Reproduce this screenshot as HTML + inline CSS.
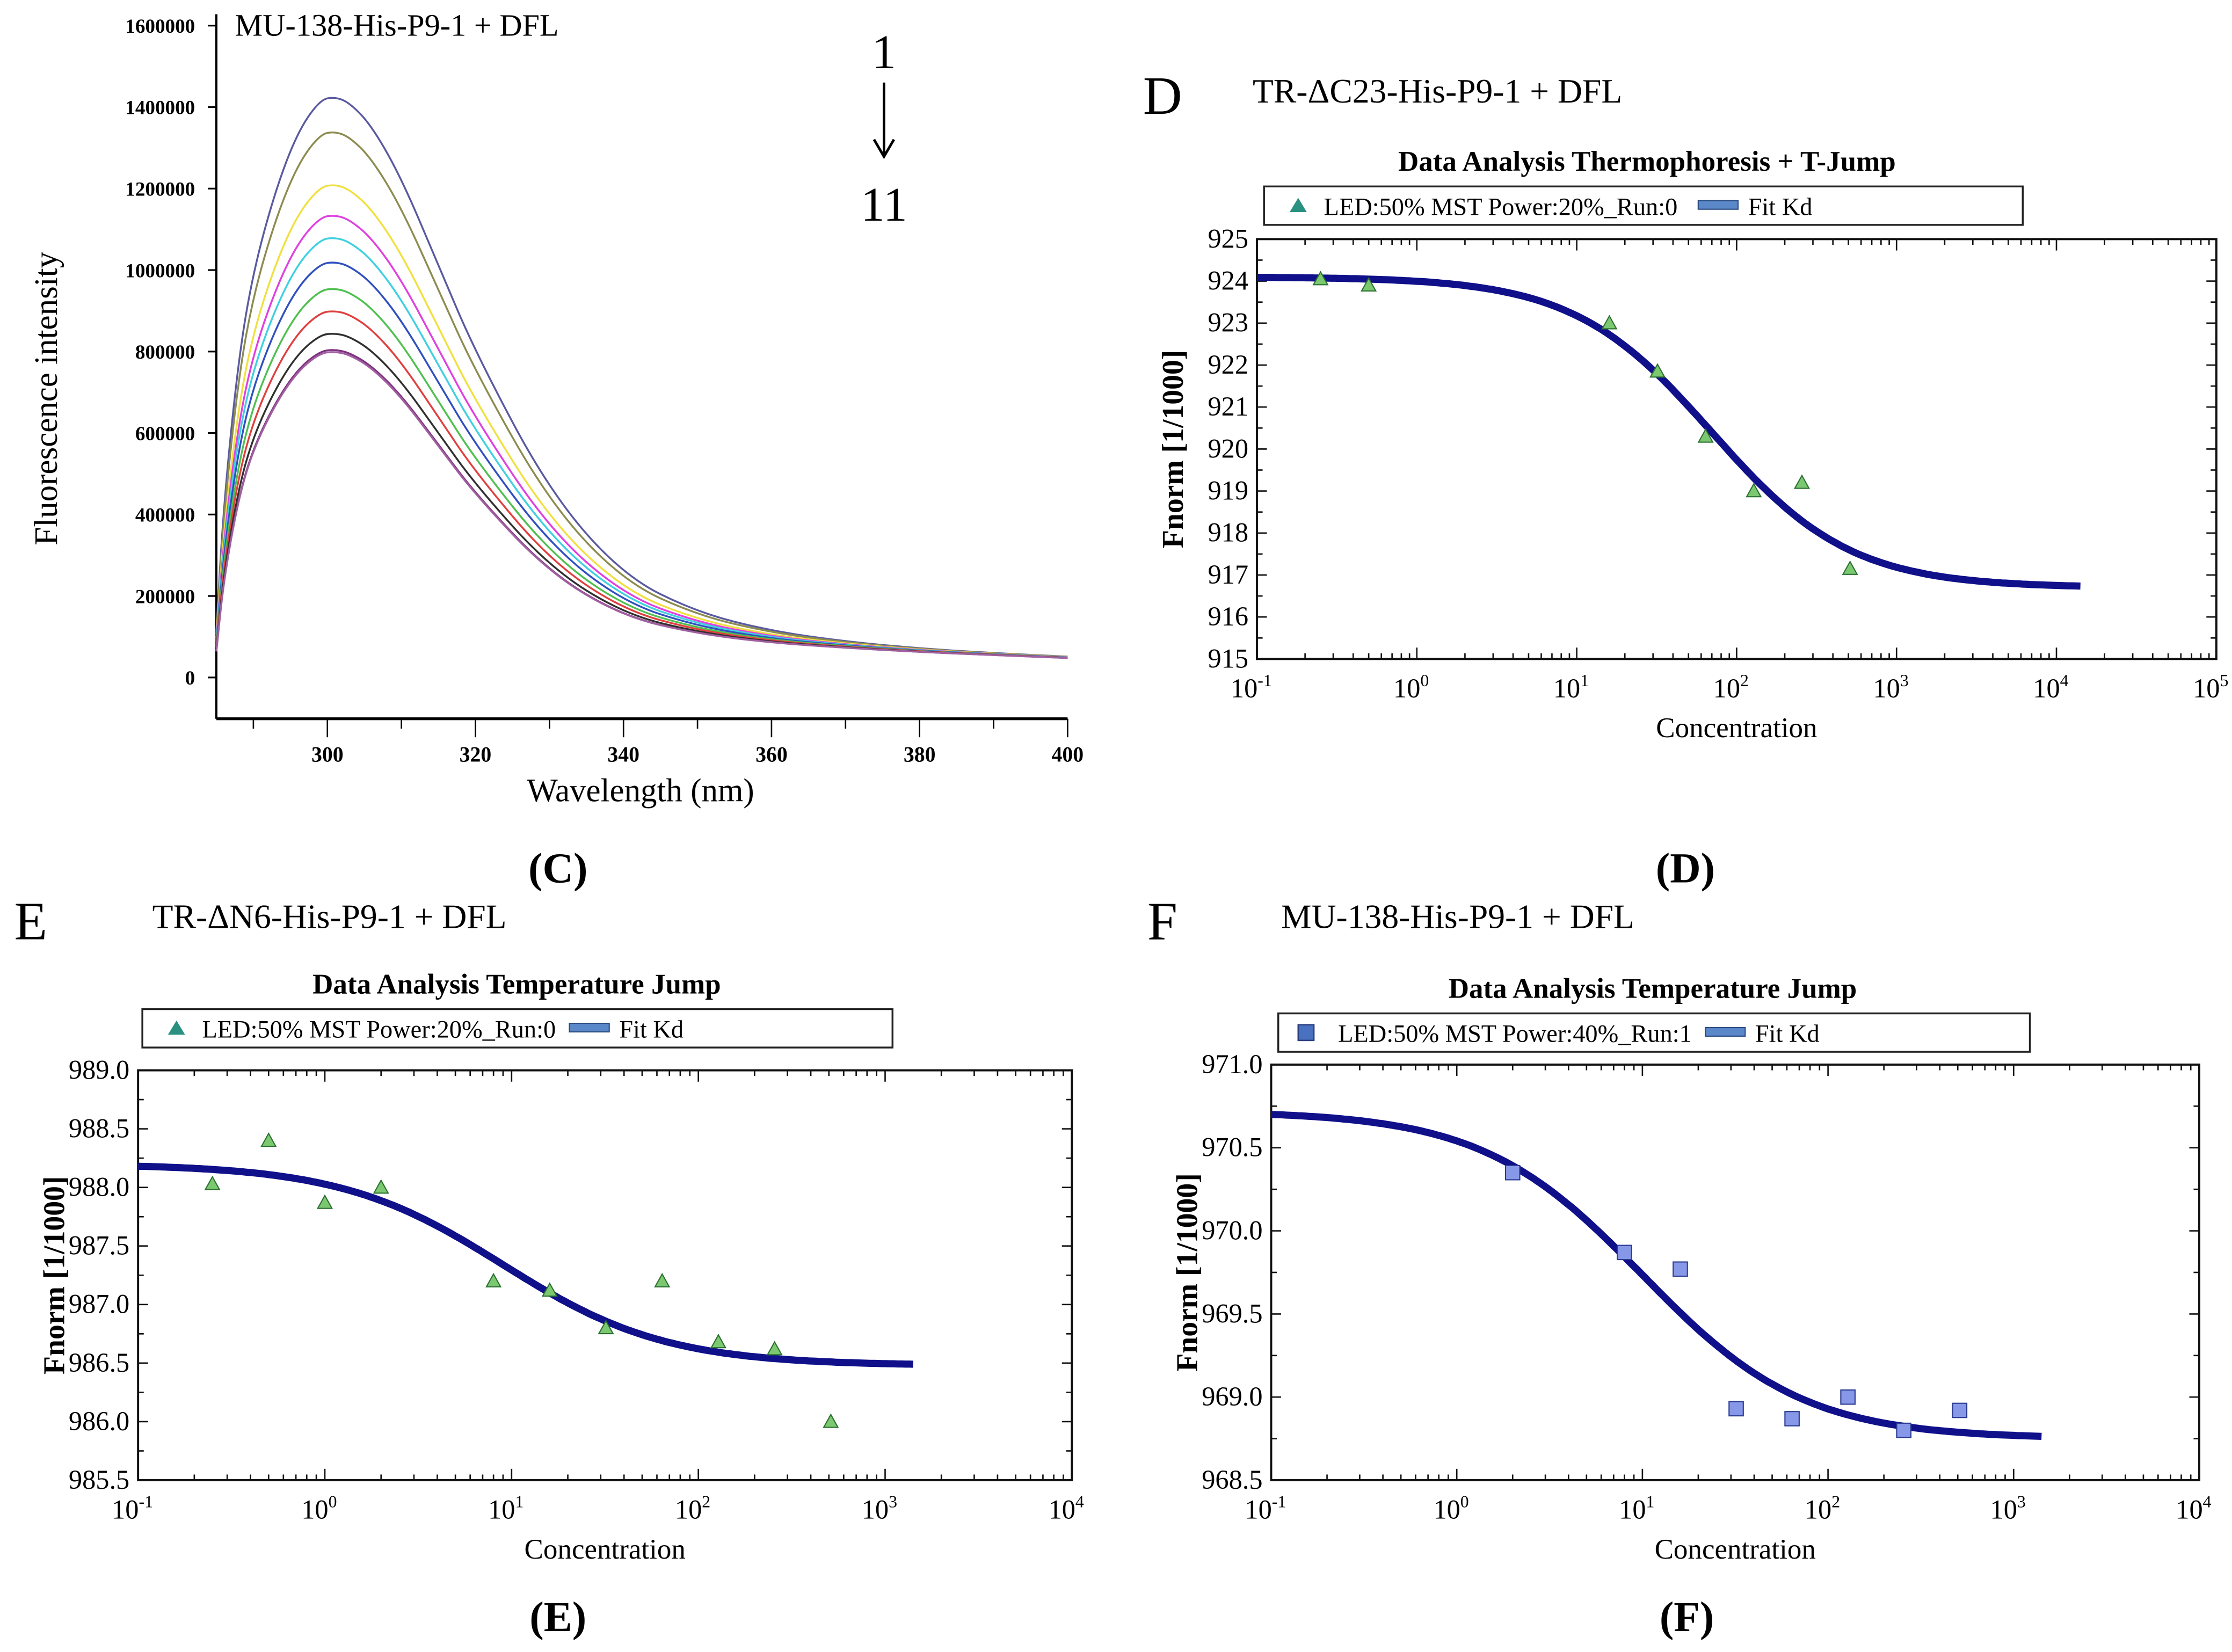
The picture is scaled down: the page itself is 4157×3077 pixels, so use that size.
<!DOCTYPE html>
<html><head><meta charset="utf-8"><style>
html,body{margin:0;padding:0;background:#fff;}
svg{display:block;}
svg text{font-family:"Liberation Serif","DejaVu Serif",serif;}
</style></head><body>
<svg id="fig" width="4157" height="3077" viewBox="0 0 1568 1160.7" preserveAspectRatio="none" xmlns="http://www.w3.org/2000/svg">
<rect width="1568" height="1161" fill="#fff"/>
<g id="pc"></g>
<g id="pd"></g>
<g id="pe"></g>
<g id="pf"></g>
</svg>
<script>
// Panel C data
const cWavelengths=[285,286,288,290,293,296,299,301,303,306,310,315,320,330,340,350,360,370,380,390,400];
const cProfile=[0.08,0.3,0.55,0.7,0.84,0.94,0.995,1.0,0.99,0.95,0.86,0.71,0.56,0.32,0.175,0.112,0.08,0.062,0.05,0.042,0.036];
const cTail=[0,0,0,0,0,0,0,0,0,0,0,0,0,0,0.1,0.3,0.5,0.7,0.85,0.95,1];
const cPeaks=[1425000,1340000,1210000,1135000,1080000,1020000,955000,900000,845000,805000,800000];
const cColors=["#5a5aa0","#8c8c50","#f0e040","#e040e0","#40d0e0","#3050c0","#50c050","#e04040","#303030","#803080","#a060a0"];
const cXTicks=[300,320,340,360,380,400];
const cYTicks=[0,200000,400000,600000,800000,1000000,1200000,1400000,1600000];
// Panel D data
const dConc=[0.25,0.5,16,32,64,128,256,512];
const dVals=[924.05,923.9,923.0,921.85,920.3,919.0,919.2,917.15];
const dFit=[924.1,916.7,70];
const dYTicks=[915,916,917,918,919,920,921,922,923,924,925];
// Panel E data
const eConc=[0.25,0.5,1,2,8,16,32,64,128,256,512];
const eVals=[988.03,988.4,987.87,988.0,987.2,987.12,986.8,987.2,986.68,986.62,986.0];
const eFit=[988.2,986.48,9];
const eYTicks=[985.5,986.0,986.5,987.0,987.5,988.0,988.5,989.0];
// Panel F data
const fConc=[2,8,16,32,64,128,256,512];
const fVals=[970.35,969.87,969.77,968.93,968.87,969.0,968.8,968.92];
const fFit=[970.72,968.75,10];
const fYTicks=[968.5,969.0,969.5,970.0,970.5,971.0];

const NS="http://www.w3.org/2000/svg";
function mk(parent,tag,attrs,text){const e=document.createElementNS(NS,tag);for(const k in attrs)e.setAttribute(k,attrs[k]);if(text!==undefined)e.textContent=text;parent.appendChild(e);return e;}

// ---------- Panel C ----------
(function(){
const g=document.getElementById('pc');
const X=w=>152+(w-285)*5.2;
const Y=v=>476-v*(458/1600000);
mk(g,'line',{x1:152,y1:10,x2:152,y2:505,stroke:'#000','stroke-width':1.5});
mk(g,'line',{x1:152,y1:505,x2:750,y2:505,stroke:'#000','stroke-width':2});
cYTicks.forEach(v=>{
 mk(g,'line',{x1:146,y1:Y(v),x2:152,y2:Y(v),stroke:'#000','stroke-width':1.2});
 const t=mk(g,'text',{x:137,y:Y(v)+5,'text-anchor':'end','font-size':14,'font-weight':'bold'},String(v));
 
});
for(let w=290;w<=400;w+=10){const big=w%20===0;mk(g,'line',{x1:X(w),y1:505,x2:X(w),y2:big?518:512,stroke:'#000','stroke-width':1});}
cXTicks.forEach(w=>{const t=mk(g,'text',{x:X(w),y:535,'text-anchor':'middle','font-size':15,'font-weight':'bold'},String(w));
 });
let t=mk(g,'text',{x:450,y:563,'text-anchor':'middle','font-size':23},'Wavelength (nm)');

t=mk(g,'text',{x:0,y:0,'text-anchor':'middle','font-size':23,transform:'translate(40,280) rotate(-90)'},'Fluorescence intensity');

t=mk(g,'text',{x:165,y:25,'font-size':22},'MU-138-His-P9-1 + DFL');

t=mk(g,'text',{x:621,y:48,'text-anchor':'middle','font-size':34},'1');

const a=mk(g,'path',{d:'M621 58 L621 108 M614 98 L621 110 L628 98',stroke:'#000','stroke-width':1.8,fill:'none'});

t=mk(g,'text',{x:621,y:155,'text-anchor':'middle','font-size':34},'11');

cPeaks.forEach((p,i)=>{
 const pts=cWavelengths.map((w,j)=>{const raw=cProfile[j]*p;const tgt=cProfile[j]*1425000;const v=raw+(tgt-raw)*cTail[j]*0.85;return [X(w),Y(v)];});
 let d='M'+pts[0][0]+' '+pts[0][1];
 for(let k=1;k<pts.length;k++){const p0=pts[k-1],p1=pts[k];const mx=(p0[0]+p1[0])/2;d+=` Q${p0[0]} ${p0[1]} ${mx} ${(p0[1]+p1[1])/2}`;}
 d+=` L${pts[pts.length-1][0]} ${pts[pts.length-1][1]}`;
 const l=mk(g,'path',{d:d,stroke:cColors[i],'stroke-width':1.3,fill:'none'});
 
});
t=mk(g,'text',{x:392,y:620,'text-anchor':'middle','font-size':30,'font-weight':'bold'},'(C)');

})();

// ---------- MST panels ----------
function mst(gid,cfg){
 const g=document.getElementById(gid);
 const {x0,x1,y0,y1,dec0,dec1,ymin,ymax,yTicks,conc,vals,fit,fitEnd,marker,yFmt}=cfg;
 const X=c=>x0+(Math.log10(c)-dec0)/(dec1-dec0)*(x1-x0);
 const Y=v=>y1-(v-ymin)/(ymax-ymin)*(y1-y0);
 let t=mk(g,'text',{x:cfg.letterX,y:cfg.letterY,'font-size':38},cfg.letter);
 
 t=mk(g,'text',{x:cfg.subX,y:cfg.letterY-8,'font-size':24},cfg.sub);
 
 t=mk(g,'text',{x:cfg.titleX,y:cfg.titleY,'text-anchor':'middle','font-size':20,'font-weight':'bold'},cfg.title);
 
 const lg=mk(g,'g',{});
 
 mk(lg,'rect',{x:cfg.lgX,y:cfg.lgY,width:cfg.lgW,height:27,fill:'#fff',stroke:'#222','stroke-width':1.3});
 const my=cfg.lgY+14;
 if(marker==='tri') mk(lg,'path',{d:`M${cfg.lgX+24} ${my-6} L${cfg.lgX+30} ${my+4} L${cfg.lgX+18} ${my+4} Z`,fill:'#2a9080'});
 else mk(lg,'rect',{x:cfg.lgX+14,y:my-6,width:11,height:11,fill:'#4a70c0',stroke:'#2a4080'});
 mk(lg,'text',{x:cfg.lgX+42,y:my+6,'font-size':17.5},cfg.lgText);
 mk(lg,'rect',{x:cfg.lgFitX,y:my-4,width:28,height:6,fill:'#5a88c8',stroke:'#2a4a80','stroke-width':0.8});
 mk(lg,'text',{x:cfg.lgFitX+35,y:my+6,'font-size':17.5},'Fit Kd');
 mk(g,'rect',{x:x0,y:y0,width:x1-x0,height:y1-y0,fill:'none',stroke:'#111','stroke-width':1.5});
 for(let d=dec0;d<dec1;d++){for(let m=1;m<10;m++){const xx=x0+(d+Math.log10(m)-dec0)/(dec1-dec0)*(x1-x0);const L=m===1?8:4;
  mk(g,'line',{x1:xx,y1:y1,x2:xx,y2:y1-L,stroke:'#111','stroke-width':1});mk(g,'line',{x1:xx,y1:y0,x2:xx,y2:y0+L,stroke:'#111','stroke-width':1});}}
 for(let d=dec0;d<=dec1;d++){const xx=X(Math.pow(10,d));
  const tt=mk(g,'text',{x:xx-4,y:y1+27,'text-anchor':'middle','font-size':19},'10');
  
  const ts=document.createElementNS(NS,'tspan');ts.setAttribute('dy',-8);ts.setAttribute('font-size',12);ts.textContent=String(d);tt.appendChild(ts);}
 yTicks.forEach((v,i)=>{const yy=Y(v);mk(g,'line',{x1:x0,y1:yy,x2:x0+7,y2:yy,stroke:'#111'});mk(g,'line',{x1:x1,y1:yy,x2:x1-7,y2:yy,stroke:'#111'});
  if(i<yTicks.length-1){const ym=Y((v+yTicks[i+1])/2);mk(g,'line',{x1:x0,y1:ym,x2:x0+4,y2:ym,stroke:'#111'});mk(g,'line',{x1:x1,y1:ym,x2:x1-4,y2:ym,stroke:'#111'});}
  const tt=mk(g,'text',{x:x0-6,y:yy+6,'text-anchor':'end','font-size':19},v.toFixed(yFmt));
  });
 t=mk(g,'text',{x:(x0+x1)/2,y:y1+55,'text-anchor':'middle','font-size':20},'Concentration');
 
 t=mk(g,'text',{x:0,y:0,'text-anchor':'middle','font-size':21,'font-weight':'bold',transform:`translate(${x0-52},${(y0+y1)/2}) rotate(-90)`},'Fnorm [1/1000]');
 
 const [top,bot,kd]=fit;let d='';
 for(let k=0;k<=200;k++){const lc=dec0+k/200*(fitEnd-dec0);const c=Math.pow(10,lc);const v=bot+(top-bot)/(1+c/kd);d+=(k?'L':'M')+X(c).toFixed(1)+' '+Y(v).toFixed(1)+' ';}
 const fc=mk(g,'path',{d:d,stroke:'#10108a','stroke-width':5,fill:'none'});
 
 conc.forEach((c,i)=>{const xx=X(c),yy=Y(vals[i]);let m;
  if(marker==='tri') m=mk(g,'path',{d:`M${xx} ${yy-5} L${xx+5} ${yy+4} L${xx-5} ${yy+4} Z`,fill:'#7cc870',stroke:'#2a7030','stroke-width':0.8});
  else m=mk(g,'rect',{x:xx-5,y:yy-5,width:10,height:10,fill:'#8898e8',stroke:'#2a3a90','stroke-width':0.8});
  });
 t=mk(g,'text',{x:cfg.capX,y:cfg.capY,'text-anchor':'middle','font-size':30,'font-weight':'bold'},cfg.cap);
 
}
mst('pd',{x0:883,x1:1557,y0:168,y1:463,dec0:-1,dec1:5,ymin:915,ymax:925,yTicks:dYTicks,conc:dConc,vals:dVals,fit:dFit,fitEnd:4.15,marker:'tri',yFmt:0,
 letter:'D',letterX:803,letterY:80,sub:'TR-ΔC23-His-P9-1  + DFL',subX:880,title:'Data Analysis Thermophoresis + T-Jump',titleX:1157,titleY:120,
 lgX:888,lgY:131,lgW:533,lgText:'LED:50% MST Power:20%_Run:0',lgFitX:1193,cap:'(D)',capX:1184,capY:620});
mst('pe',{x0:97,x1:753,y0:752,y1:1040,dec0:-1,dec1:4,ymin:985.5,ymax:989.0,yTicks:eYTicks,conc:eConc,vals:eVals,fit:eFit,fitEnd:3.15,marker:'tri',yFmt:1,
 letter:'E',letterX:10,letterY:660,sub:'TR-ΔN6-His-P9-1  + DFL',subX:107,title:'Data Analysis Temperature Jump',titleX:363,titleY:698,
 lgX:100,lgY:709,lgW:527,lgText:'LED:50% MST Power:20%_Run:0',lgFitX:400,cap:'(E)',capX:392,capY:1146});
mst('pf',{x0:893,x1:1545,y0:748,y1:1040,dec0:-1,dec1:4,ymin:968.5,ymax:971.0,yTicks:fYTicks,conc:fConc,vals:fVals,fit:fFit,fitEnd:3.15,marker:'sq',yFmt:1,
 letter:'F',letterX:806,letterY:660,sub:'MU-138-His-P9-1  + DFL',subX:900,title:'Data Analysis Temperature Jump',titleX:1161,titleY:701,
 lgX:898,lgY:712,lgW:528,lgText:'LED:50% MST Power:40%_Run:1',lgFitX:1198,cap:'(F)',capX:1185,capY:1146});
</script>
</body></html>
